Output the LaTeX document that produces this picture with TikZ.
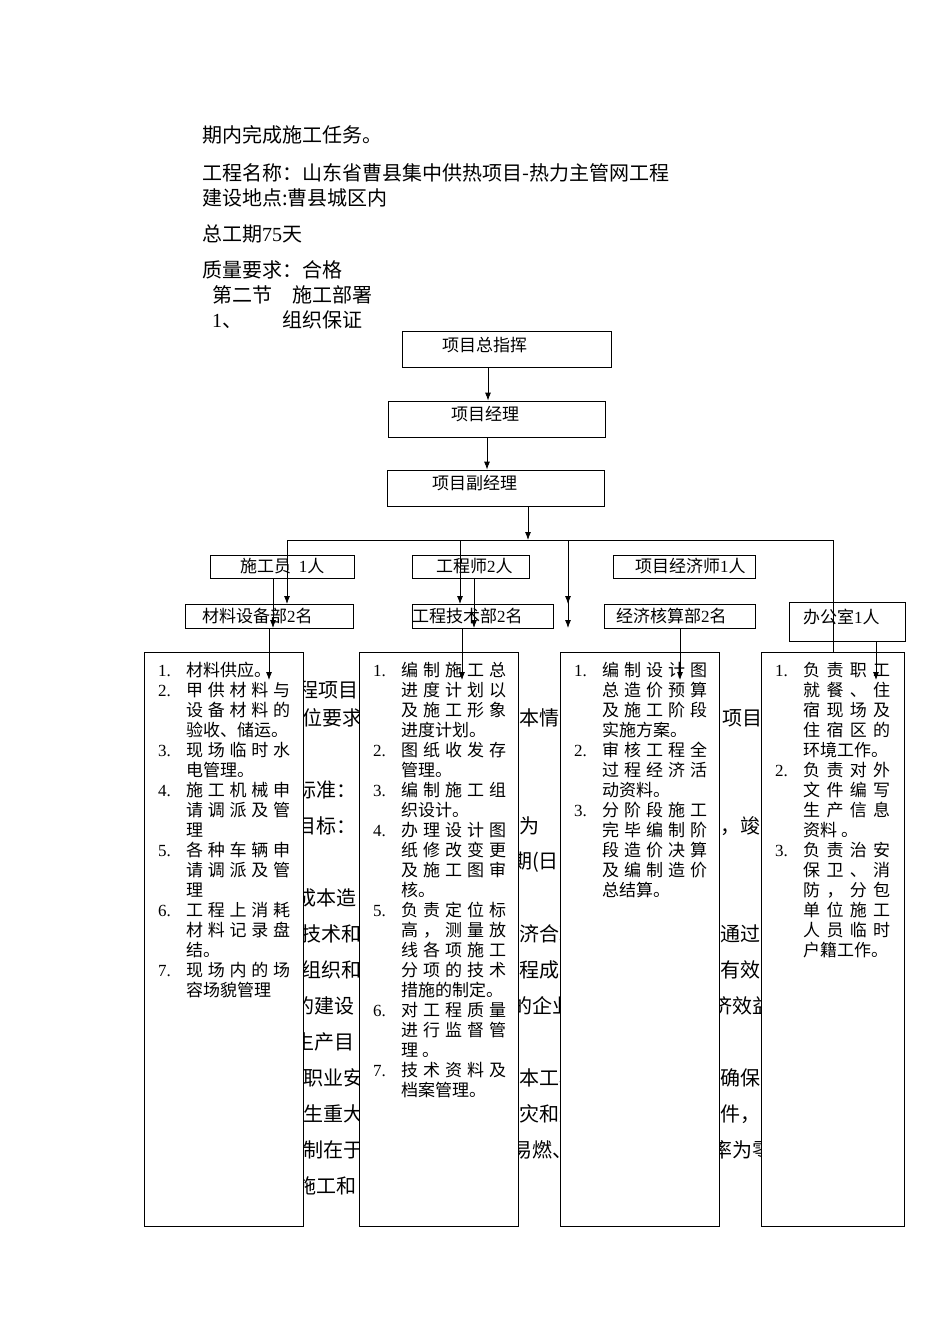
\documentclass[tikz,border=0pt]{standalone}
\usetikzlibrary{arrows.meta}
\usepackage{fontspec}
\setmainfont{Noto Sans CJK SC}
\newfontfamily\lat{Liberation Serif}
\def\spr#1{\ifx#1\relax\else#1\hfil\expandafter\spr\fi}
\newlength\jw
\newcommand\J[1]{\makebox[\jw][s]{\spr#1\relax\unskip}}
\newcommand\N[1]{\makebox[28pt][l]{\lat #1}}
\newcommand\I{\hspace*{28pt}}
\begin{document}
\begin{tikzpicture}[x=1pt,y=-1pt,
  bx/.style={draw,fill=white,line width=0.8pt,inner sep=0,minimum width=#1},
  lb/.style={anchor=west,inner sep=0,font=\fontsize{17}{20}\selectfont},
  bg/.style={anchor=west,inner sep=0,font=\fontsize{20}{20}\selectfont},
  tp/.style={anchor=west,inner sep=0,font=\fontsize{20}{24}\selectfont},
  lst/.style={anchor=north west,inner sep=0,align=left,font=\fontsize{17}{20}\selectfont},
  ar/.style={-{Latex[length=8pt,width=6pt]},line width=0.8pt},
  ln/.style={line width=0.8pt}]
\useasboundingbox (0,0) rectangle (950,1344);
% top text
\node[tp] (t1) at (202,135) {期内完成施工任务。};
\node[tp] (t2) at (202,173) {工程名称：山东省曹县集中供热项目-热力主管网工程};
\node[tp] (t3) at (202,198) {建设地点:曹县城区内};
\node[tp] (t4) at (202,234) {总工期{\lat 75}天};
\node[tp] (t5) at (202,270) {质量要求：合格};
\node[tp] (t6) at (212,295) {第二节\quad{}施工部署};
\node[tp] (t7) at (212,320) {{\lat 1}、\quad\quad{}组织保证};
% background fragments
\foreach \x/\y/\s in {298/690/程项目,302/718/位要求,296/790/标准：,296/826/目标：,296/898/成本造,301/934/技术和,301/970/组织和,294/1006/的建设,294/1042/生产目,303/1078/职业安,303/1114/生重大,303/1150/制在于,296/1186/施工和,
 519/718/本情况,519/826/为,512/862/期(日,519/934/济合理,519/970/程成本,512/1006/的企业,519/1078/本工程,519/1114/灾和爆,512/1150/易燃、,
 722/718/项目,720/826/，竣,720/934/通过,720/970/有效,712/1006/济效益,720/1078/确保,720/1114/件，,712/1150/率为零}
  \node[bg] at (\x,\y) {\s};
% boxes
\node[bx=209,minimum height=36] (zh) at (506.5,349) {};
\node[lb] at (442,345) {项目总指挥};
\node[bx=217,minimum height=36] (jl) at (496.5,419) {};
\node[lb] at (451,414) {项目经理};
\node[bx=217,minimum height=36] (fj) at (495.5,488) {};
\node[lb] at (432,483) {项目副经理};
\node[bx=144,minimum height=23] (sg) at (282,566.5) {};
\node[lb] at (240,566) {施工员\ \ {\lat 1}人};
\node[bx=117,minimum height=23] (gc) at (470.5,566.5) {};
\node[lb] at (436,566) {工程师{\lat 2}人};
\node[bx=142,minimum height=23] (jj) at (684,566.5) {};
\node[lb] at (635,566) {项目经济师{\lat 1}人};
\node[bx=168,minimum height=24] (cl) at (269,616) {};
\node[lb] at (202,616) {材料设备部{\lat 2}名};
\node[bx=141,minimum height=24] (js) at (482.5,616) {};
\node[lb] at (412,616) {工程技术部{\lat 2}名};
\node[bx=151,minimum height=24] (hs) at (679.5,616) {};
\node[lb] at (616,616) {经济核算部{\lat 2}名};
\node[bx=116,minimum height=39] (bg) at (847,621.5) {};
\node[lb] at (803,617) {办公室{\lat 1}人};
\node[bx=159,minimum height=574] (b1) at (223.5,939) {};
\node[bx=159,minimum height=574] (b2) at (438.5,939) {};
\node[bx=159,minimum height=574] (b3) at (639.5,939) {};
\node[bx=143,minimum height=574] (b4) at (832.5,939) {};
% lists
\setlength\jw{104pt}
\node[lst] (l1) at (158,662) {\N{1.}材料供应。\\
\N{2.}\J{甲供材料与}\\ \I{}\J{设备材料的}\\ \I{}验收、储运。\\
\N{3.}\J{现场临时水}\\ \I{}电管理。\\
\N{4.}\J{施工机械申}\\ \I{}\J{请调派及管}\\ \I{}理\\
\N{5.}\J{各种车辆申}\\ \I{}\J{请调派及管}\\ \I{}理\\
\N{6.}\J{工程上消耗}\\ \I{}\J{材料记录盘}\\ \I{}结。\\
\N{7.}\J{现场内的场}\\ \I{}容场貌管理};
\setlength\jw{105pt}
\node[lst] (l2) at (373,662) {\N{1.}\J{编制施工总}\\ \I{}\J{进度计划以}\\ \I{}\J{及施工形象}\\ \I{}进度计划。\\
\N{2.}\J{图纸收发存}\\ \I{}管理。\\
\N{3.}\J{编制施工组}\\ \I{}织设计。\\
\N{4.}\J{办理设计图}\\ \I{}\J{纸修改变更}\\ \I{}\J{及施工图审}\\ \I{}核。\\
\N{5.}\J{负责定位标}\\ \I{}\J{高，测量放}\\ \I{}\J{线各项施工}\\ \I{}\J{分项的技术}\\ \I{}措施的制定。\\
\N{6.}\J{对工程质量}\\ \I{}\J{进行监督管}\\ \I{}理\ 。\\
\N{7.}\J{技术资料及}\\ \I{}档案管理。};
\node[lst] (l3) at (574,662) {\N{1.}\J{编制设计图}\\ \I{}\J{总造价预算}\\ \I{}\J{及施工阶段}\\ \I{}实施方案。\\
\N{2.}\J{审核工程全}\\ \I{}\J{过程经济活}\\ \I{}动资料。\\
\N{3.}\J{分阶段施工}\\ \I{}\J{完毕编制阶}\\ \I{}\J{段造价决算}\\ \I{}\J{及编制造价}\\ \I{}总结算。};
\setlength\jw{87pt}
\node[lst] (l4) at (775,662) {\N{1.}\J{负责职工}\\ \I{}\J{就餐、住}\\ \I{}\J{宿现场及}\\ \I{}\J{住宿区的}\\ \I{}环境工作。\\
\N{2.}\J{负责对外}\\ \I{}\J{文件编写}\\ \I{}\J{生产信息}\\ \I{}资料\ 。\\
\N{3.}\J{负责治安}\\ \I{}\J{保卫、消}\\ \I{}\J{防，分包}\\ \I{}\J{单位施工}\\ \I{}\J{人员临时}\\ \I{}户籍工作。};
% connectors
\coordinate (h1) at (287,540); \coordinate (h2) at (833,540);
\coordinate (hm) at (528,540);
\draw[ar] (zh.south -| 488,0) -- (jl.north -| 488,0);
\draw[ar] (jl.south -| 487,0) -- (fj.north -| 487,0);
\draw[ar] (fj.south -| 528,0) -- (hm);
\draw[ln] (h1) -- (h2);
\draw[ar] (h1) -- (287,604);
\draw[ar] (460,540) -- (460,604);
\draw[ar] (568,540) -- (568,604);
\draw[ln] (h2) -- (b4.north -| h2);
\draw[ar] (sg.south -| 273,0) -- (273,628);
\draw[ar] (gc.south -| 474,0) -- (474,628);
\draw[ar] (jj.south -| 568,0) -- (568,628);
\draw[ar] (cl.south -| 269,0) -- (269,680);
\draw[ar] (js.south -| 462,0) -- (462,680);
\draw[ar] (hs.south -| 680,0) -- (680,680);
\draw[ar] (bg.south -| 876,0) -- (876,680);
\end{tikzpicture}
\end{document}
